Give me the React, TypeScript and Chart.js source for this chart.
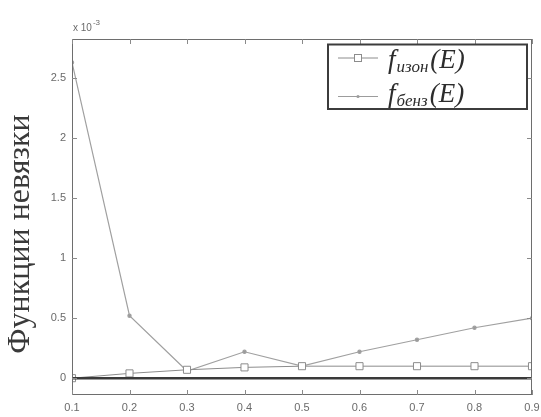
import React, { useEffect, useRef } from "react";
import { Chart, registerables } from "chart.js";

Chart.register(...registerables);

// ---- data ----
const energies = [0.1, 0.2, 0.3, 0.4, 0.5, 0.6, 0.7, 0.8, 0.9];
const fIzon = [0.0, 0.04, 0.07, 0.09, 0.1, 0.1, 0.1, 0.1, 0.1];
const fBenz = [2.63, 0.52, 0.06, 0.22, 0.1, 0.22, 0.32, 0.42, 0.5];
const zeroLine = [0, 0, 0, 0, 0, 0, 0, 0, 0];
const xTicks = [0.1, 0.2, 0.3, 0.4, 0.5, 0.6, 0.7, 0.8, 0.9];
const yTicks = [0, 0.5, 1, 1.5, 2, 2.5];
const yTickLabels = ["0", "0.5", "1", "1.5", "2", "2.5"];
const legendMain = ["f", "f"];
const legendSub = ["изон", "бенз"];
const legendTail = ["(E)", "(E)"];
const yTitle = "Функции невязки";
const scaleNoteBase = "x 10";
const scaleNoteExp = "-3";

const Y_MIN = -0.14;
const Y_MAX = 2.825;
const X_MIN = 0.1;
const X_MAX = 0.9;

const toPoints = (ys: number[]) => energies.map((x, i) => ({ x, y: ys[i] }));

const framePlugin = {
  id: "matlabFrame",
  afterDatasetsDraw(chart: any) {
    const { ctx, chartArea: a, scales } = chart;
    const xs = scales.x;
    const ys = scales.y;
    ctx.save();
    // box
    ctx.strokeStyle = "#6e6e6e";
    ctx.lineWidth = 1;
    ctx.strokeRect(a.left + 0.5, a.top + 0.5, a.right - a.left - 1, a.bottom - a.top - 1);
    // inward ticks
    ctx.strokeStyle = "#8a8a8a";
    ctx.beginPath();
    xTicks.forEach((v) => {
      const px = Math.round(xs.getPixelForValue(v)) + 0.5;
      ctx.moveTo(px, a.bottom);
      ctx.lineTo(px, a.bottom - 5);
      ctx.moveTo(px, a.top);
      ctx.lineTo(px, a.top + 5);
    });
    yTicks.forEach((v) => {
      const py = Math.round(ys.getPixelForValue(v)) + 0.5;
      ctx.moveTo(a.left, py);
      ctx.lineTo(a.left + 5, py);
      ctx.moveTo(a.right, py);
      ctx.lineTo(a.right - 5, py);
    });
    ctx.stroke();

    // exponent note
    ctx.fillStyle = "#6a6a6a";
    ctx.textBaseline = "alphabetic";
    ctx.textAlign = "left";
    ctx.font = "10px 'Liberation Sans', Arial, sans-serif";
    ctx.fillText(scaleNoteBase, a.left + 1, a.top - 8);
    const w = ctx.measureText(scaleNoteBase).width;
    ctx.font = "8px 'Liberation Sans', Arial, sans-serif";
    ctx.fillText(scaleNoteExp, a.left + 1 + w + 1, a.top - 14);

    // y title
    ctx.save();
    ctx.translate(21, 234);
    ctx.rotate(-Math.PI / 2);
    ctx.textAlign = "center";
    ctx.textBaseline = "middle";
    ctx.fillStyle = "#3a3a3a";
    ctx.font = "32px 'Liberation Serif', 'Times New Roman', serif";
    ctx.fillText(yTitle, 0, 0);
    ctx.restore();

    // legend
    const bx = a.right - 204;
    const by = a.top + 5.5;
    const bw = 199;
    const bh = 64.5;
    ctx.fillStyle = "#ffffff";
    ctx.fillRect(bx, by, bw, bh);
    ctx.strokeStyle = "#3c3c3c";
    ctx.lineWidth = 2;
    ctx.strokeRect(bx, by, bw, bh);
    const rows = [by + 13.5, by + 52];
    const baselines = [by + 23.5, by + 57.5];
    const colors = ["#8c8c8c", "#9c9c9c"];
    rows.forEach((ry, i) => {
      ctx.strokeStyle = colors[i];
      ctx.lineWidth = 1;
      ctx.beginPath();
      ctx.moveTo(bx + 10, ry);
      ctx.lineTo(bx + 50, ry);
      ctx.stroke();
      if (i === 0) {
        ctx.fillStyle = "#fff";
        ctx.fillRect(bx + 26.5, ry - 3.5, 7, 7);
        ctx.strokeRect(bx + 26.5, ry - 3.5, 7, 7);
      } else {
        ctx.fillStyle = colors[i];
        ctx.beginPath();
        ctx.arc(bx + 30, ry, 1.6, 0, Math.PI * 2);
        ctx.fill();
      }
      const bl = baselines[i];
      ctx.fillStyle = "#2c2c2c";
      ctx.textAlign = "left";
      ctx.textBaseline = "alphabetic";
      ctx.font = "italic 27px 'Liberation Serif', 'Times New Roman', serif";
      let tx = bx + 60;
      ctx.fillText(legendMain[i], tx, bl);
      tx += ctx.measureText(legendMain[i]).width + 1;
      ctx.font = "italic 17px 'Liberation Serif', 'Times New Roman', serif";
      ctx.fillText(legendSub[i], tx, bl + 4);
      tx += ctx.measureText(legendSub[i]).width + 2;
      ctx.font = "italic 27px 'Liberation Serif', 'Times New Roman', serif";
      ctx.fillText(legendTail[i], tx, bl);
    });
    ctx.restore();
  },
};

export default function App() {
  const ref = useRef<HTMLCanvasElement | null>(null);
  useEffect(() => {
    document.body.style.margin = "0";
    const canvas = ref.current;
    if (!canvas) return;
    const chart = new Chart(canvas, {
      type: "line",
      data: {
        datasets: [
          {
            label: "zero",
            data: toPoints(zeroLine),
            borderColor: "#3a3a3a",
            borderWidth: 2.5,
            pointRadius: 0,
          },
          {
            label: "f изон(E)",
            data: toPoints(fIzon),
            borderColor: "#8c8c8c",
            backgroundColor: "#ffffff",
            borderWidth: 1,
            pointStyle: "rect",
            pointRadius: 5,
            pointBorderWidth: 1,
          },
          {
            label: "f бенз(E)",
            data: toPoints(fBenz),
            borderColor: "#a0a0a0",
            backgroundColor: "#9a9a9a",
            borderWidth: 1.2,
            pointStyle: "circle",
            pointRadius: 1.6,
          },
        ],
      },
      options: {
        animation: false,
        responsive: false,
        maintainAspectRatio: false,
        layout: { padding: { top: 39, right: 9, left: 0, bottom: 0 } },
        plugins: {
          legend: { display: false },
          tooltip: { enabled: false },
        },
        scales: {
          x: {
            type: "linear",
            min: X_MIN,
            max: X_MAX,
            grid: { display: false, drawTicks: false },
            border: { display: false },
            afterBuildTicks: (s: any) => {
              s.ticks = xTicks.map((v) => ({ value: v }));
            },
            afterFit: (s: any) => {
              s.height = 22;
              s.paddingLeft = 0;
              s.paddingRight = 0;
            },
            ticks: {
              padding: 6,
              color: "#6a6a6a",
              font: { family: "'Liberation Sans', Arial, sans-serif", size: 11 },
              callback: (v: any) => Number(v).toFixed(1),
              maxRotation: 0,
              autoSkip: false,
            },
          },
          y: {
            type: "linear",
            min: Y_MIN,
            max: Y_MAX,
            grid: { display: false, drawTicks: false },
            border: { display: false },
            afterBuildTicks: (s: any) => {
              s.ticks = yTicks.map((v) => ({ value: v }));
            },
            afterFit: (s: any) => {
              s.width = 72;
              s.paddingTop = 0;
              s.paddingBottom = 0;
            },
            ticks: {
              padding: 6,
              color: "#6a6a6a",
              font: { family: "'Liberation Sans', Arial, sans-serif", size: 11 },
              callback: (v: any) => {
                const i = yTicks.indexOf(Number(v));
                return i >= 0 ? yTickLabels[i] : "";
              },
              autoSkip: false,
            },
          },
        },
      },
      plugins: [framePlugin],
    });
    return () => chart.destroy();
  }, []);
  return (
    <div style={{ position: "absolute", left: 0, top: 0, width: 541, height: 417, background: "#fff" }}>
      <canvas ref={ref} width={541} height={417} style={{ width: 541, height: 417, display: "block" }} />
    </div>
  );
}
